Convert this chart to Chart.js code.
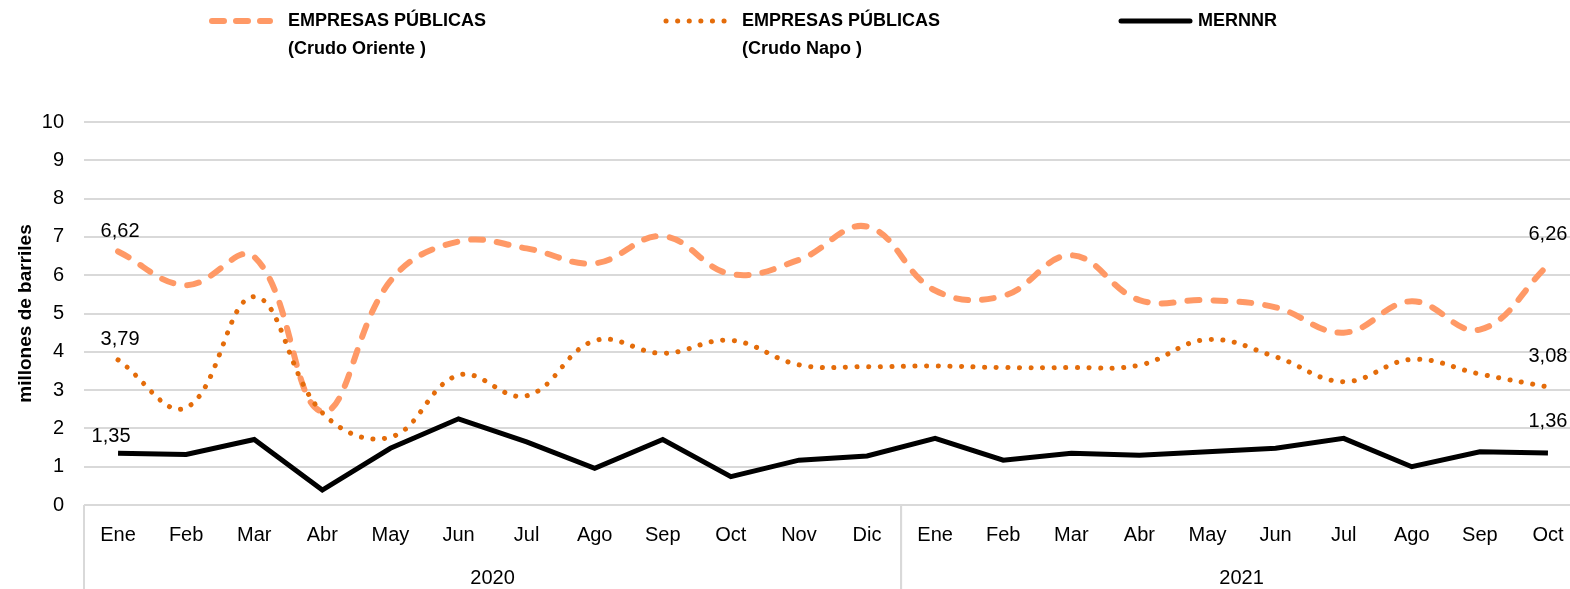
<!DOCTYPE html>
<html>
<head>
<meta charset="utf-8">
<script src="https://cdn.jsdelivr.net/npm/chart.js@4"></script>
<style>
 body{margin:0;background:#fff;overflow:hidden;width:1570px;height:589px;position:relative}
 .wrap{position:absolute;left:0;top:0;width:1570px;height:589px;overflow:hidden}
 .leg{position:absolute;top:6px;font:bold 18px 'Liberation Sans Narrow','Arial Narrow','Liberation Sans',Arial,sans-serif;line-height:28px;color:#000}
 .sw{position:absolute;top:15px}
</style>
</head>
<body>
<div class="wrap">
 <canvas id="c" width="1584" height="589"></canvas>
</div>
<svg class="sw" style="left:207px" width="68" height="12"><line x1="5" y1="6" x2="63" y2="6" stroke="#FF9966" stroke-width="6" stroke-linecap="round" stroke-dasharray="12 12"/></svg>
<div class="leg" style="left:288px">EMPRESAS PÚBLICAS<br>(Crudo Oriente )</div>
<svg class="sw" style="left:663px" width="72" height="12"><line x1="3" y1="6" x2="70" y2="6" stroke="#E46C0A" stroke-width="5" stroke-linecap="round" stroke-dasharray="0.1 11.5"/></svg>
<div class="leg" style="left:742px">EMPRESAS PÚBLICAS<br>(Crudo Napo )</div>
<svg class="sw" style="left:1118px" width="76" height="12"><line x1="3" y1="6" x2="72" y2="6" stroke="#000" stroke-width="5" stroke-linecap="round"/></svg>
<div class="leg" style="left:1198px">MERNNR</div>
<script>
const months=['Ene','Feb','Mar','Abr','May','Jun','Jul','Ago','Sep','Oct','Nov','Dic',
 'Ene','Feb','Mar','Abr','May','Jun','Jul','Ago','Sep','Oct'];
const years=['2020','2021'];
const yearSpans=[12,10];
const oriente=[6.62,5.74,6.48,2.44,5.85,6.88,6.70,6.31,7.02,6.03,6.40,7.27,
 5.60,5.46,6.52,5.35,5.35,5.16,4.50,5.32,4.58,6.26];
const napo=[3.79,2.54,5.44,2.41,1.77,3.39,2.85,4.29,3.96,4.30,3.66,3.61,
 3.63,3.59,3.59,3.65,4.32,3.87,3.22,3.80,3.42,3.08];
const mernnr=[1.35,1.32,1.71,0.39,1.48,2.25,1.65,0.96,1.71,0.74,1.17,1.28,
 1.74,1.17,1.35,1.30,1.39,1.48,1.74,1.00,1.39,1.36];

const FONT="'Liberation Sans Narrow','Arial Narrow','Liberation Sans',Arial,sans-serif";
const GRID='#d9d9d9';

const yearPlugin={
 id:'years',
 afterDraw(chart){
  const {ctx,scales:{x},chartArea}=chart;
  const step=x.getPixelForValue(1)-x.getPixelForValue(0);
  ctx.save();
  ctx.strokeStyle=GRID;ctx.lineWidth=2;
  ctx.fillStyle='#000';ctx.font='20px '+FONT;
  ctx.textAlign='center';ctx.textBaseline='middle';
  let start=0;
  years.forEach((yr,i)=>{
   const left=x.getPixelForValue(start)-step/2;
   const right=x.getPixelForValue(start+yearSpans[i]-1)+step/2;
   [left,right].forEach(px=>{
    ctx.beginPath();ctx.moveTo(px,chartArea.bottom);ctx.lineTo(px,chart.height);ctx.stroke();
   });
   ctx.fillText(yr,(left+right)/2,chartArea.bottom+73);
   start+=yearSpans[i];
  });
  ctx.restore();
 }
};

// first and last value labels
const labelPlugin={
 id:'endLabels',
 afterDatasetsDraw(chart){
  const ctx=chart.ctx;
  const offs=[[2,-20,0,-31],[2,-20,0,-31],[-7,-17,0,-31]];
  ctx.save();
  ctx.font='20px '+FONT;ctx.fillStyle='#000';
  ctx.textAlign='center';ctx.textBaseline='middle';
  chart.data.datasets.forEach((ds,i)=>{
   const pts=chart.getDatasetMeta(i).data;
   const n=pts.length-1;
   const f=v=>v.toFixed(2).replace('.',',');
   ctx.fillText(f(ds.data[0]),pts[0].x+offs[i][0],pts[0].y+offs[i][1]);
   ctx.fillText(f(ds.data[n]),pts[n].x+offs[i][2],pts[n].y+offs[i][3]);
  });
  ctx.restore();
 }
};

new Chart(document.getElementById('c'),{
 type:'line',
 data:{
  labels:months,
  datasets:[
   {label:'EMPRESAS PÚBLICAS (Crudo Oriente )',data:oriente,borderColor:'#FF9966',borderWidth:6,
    borderDash:[12,14],borderCapStyle:'round',tension:0.4,pointRadius:0,order:3},
   {label:'EMPRESAS PÚBLICAS (Crudo Napo )',data:napo,borderColor:'#E46C0A',borderWidth:5,
    borderDash:[0.1,11.5],borderCapStyle:'round',tension:0.4,pointRadius:0,order:2},
   {label:'MERNNR',data:mernnr,borderColor:'#000',borderWidth:5,tension:0,pointRadius:0,order:1}
  ]
 },
 options:{
  responsive:false,animation:false,
  layout:{padding:{top:122,right:2,left:0,bottom:0}},
  plugins:{legend:{display:false},tooltip:{enabled:false}},
  scales:{
   x:{
    offset:true,
    grid:{display:false,drawTicks:false,offset:true},
    border:{display:false},
    ticks:{font:{family:FONT,size:20},color:'#000',padding:18,maxRotation:0,autoSkip:false},
    afterFit(s){s.height=84;}
   },
   y:{
    min:0,max:10,
    grid:{color:GRID,lineWidth:2,drawTicks:false},
    border:{display:false},
    ticks:{stepSize:1,font:{family:FONT,size:20},color:'#000',padding:20},
    title:{display:true,text:'millones de barriles',font:{family:FONT,size:19,weight:'bold'},color:'#000',padding:{top:14,bottom:0}},
    afterFit(s){s.width=84;}
   }
  }
 },
 plugins:[yearPlugin,labelPlugin]
});
</script>
</body>
</html>
